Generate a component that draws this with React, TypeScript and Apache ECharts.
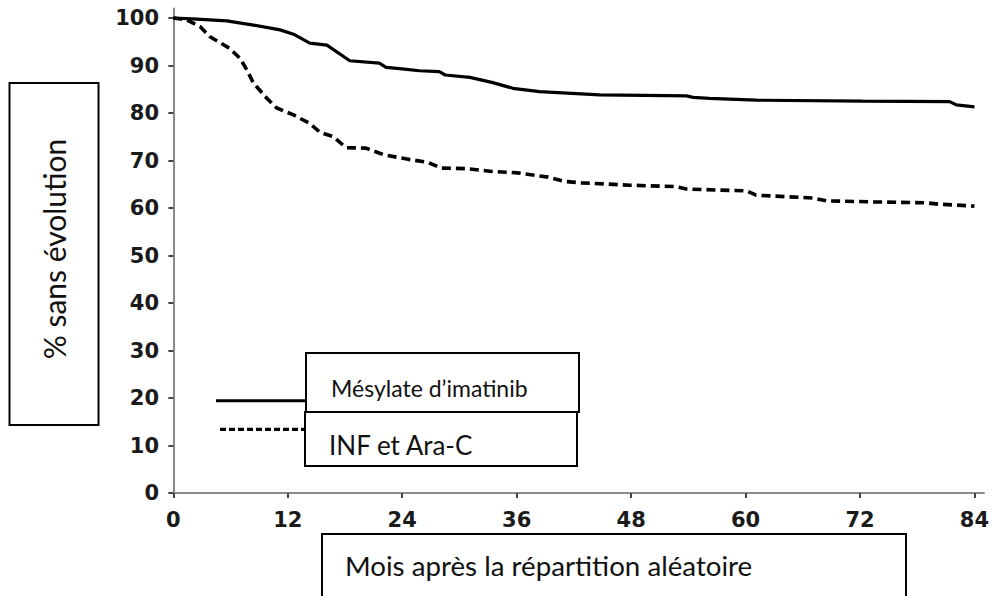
import React, { useEffect, useRef } from "react";
import * as echarts from "echarts";

const xTicks = [0, 12, 24, 36, 48, 60, 72, 84];
const yTicks = [0, 10, 20, 30, 40, 50, 60, 70, 80, 90, 100];

const imatinibMonths = [0, 2, 5.6, 8.4, 11.2, 12.6, 14.3, 16.1, 18.5, 21.6, 22.3, 24, 25.8, 27.9, 28.5, 31.1, 33.5, 35.6, 38.4, 44.7, 53.8, 54.5, 56.2, 61.1, 72.3, 81.4, 82.1, 84];
const imatinibValues = [100, 99.8, 99.4, 98.5, 97.5, 96.6, 94.7, 94.3, 91.0, 90.5, 89.6, 89.3, 88.9, 88.7, 88.0, 87.5, 86.4, 85.2, 84.5, 83.8, 83.6, 83.3, 83.1, 82.7, 82.5, 82.4, 81.7, 81.3];

const infMonths = [0, 1.4, 2.8, 3.8, 5.9, 7.0, 7.7, 8.4, 9.8, 10.8, 12.6, 14.3, 15.4, 16.8, 18.1, 20.2, 22.1, 24.5, 26.7, 28.1, 30.6, 33.4, 36.1, 39.3, 41.0, 42.8, 47.9, 52.7, 53.8, 60.1, 61.1, 67.1, 68.5, 73.4, 78.9, 80.3, 84];
const infValues = [100, 99.6, 98.2, 96.1, 93.6, 91.5, 89.1, 86.3, 83.1, 81.1, 79.6, 77.8, 75.9, 75.0, 72.7, 72.6, 71.2, 70.3, 69.6, 68.4, 68.3, 67.7, 67.4, 66.5, 65.6, 65.3, 64.8, 64.5, 64.0, 63.6, 62.7, 62.1, 61.5, 61.3, 61.1, 60.8, 60.4];

const seriesNames = ["Mésylate d\u2019imatinib", "INF et Ara-C"];
const yTitle = "% sans évolution";
const xTitle = "Mois après la répartition aléatoire";

export default function App() {
  const ref = useRef<HTMLDivElement>(null);
  useEffect(() => {
    if (!ref.current) return;
    const chart = echarts.init(ref.current, undefined, { renderer: "svg" });
    const tickFont = { fontFamily: "DejaVu Sans", fontWeight: "bold" as const, fontSize: 21, color: "#1a1a1a" };
    chart.setOption({
      animation: false,
      backgroundColor: "#ffffff",
      grid: { left: 170, right: 11, top: 8.5, bottom: 100.6, outerBoundsMode: "none" },
      xAxis: {
        type: "value",
        min: -0.35,
        max: 85,
        axisLine: { show: true, lineStyle: { color: "#8a8a8a", width: 2 } },
        axisTick: { show: true, customValues: xTicks, length: 5, lineStyle: { color: "#444", width: 2 } },
        axisLabel: { customValues: xTicks, margin: 14, ...tickFont },
        splitLine: { show: false },
      },
      yAxis: {
        type: "value",
        min: -0.5,
        max: 102,
        axisLine: { show: true, lineStyle: { color: "#8a8a8a", width: 2 } },
        axisTick: { show: true, customValues: yTicks, length: 5, lineStyle: { color: "#444", width: 2 } },
        axisLabel: { customValues: yTicks, margin: 11, ...tickFont },
        splitLine: { show: false },
      },
      series: [
        {
          name: seriesNames[0],
          type: "line",
          data: imatinibMonths.map((m, i) => [m, imatinibValues[i]]),
          showSymbol: false,
          lineStyle: { color: "#000", width: 3.2 },
        },
        {
          name: seriesNames[1],
          type: "line",
          data: infMonths.map((m, i) => [m, infValues[i]]),
          showSymbol: false,
          lineStyle: { color: "#000", width: 3.6, type: [9, 5] },
        },
      ],
      graphic: [
        { type: "rect", shape: { x: 9.5, y: 83, width: 89, height: 342 }, style: { fill: "#fff", stroke: "#000", lineWidth: 2 } },
        {
          type: "text",
          x: 54,
          y: 249,
          rotation: Math.PI / 2,
          style: { text: yTitle, font: "30px Lato", fill: "#111", align: "center", verticalAlign: "middle" },
        },
        { type: "line", shape: { x1: 216, y1: 400.7, x2: 306, y2: 400.7 }, style: { stroke: "#000", lineWidth: 3 } },
        { type: "line", shape: { x1: 220, y1: 429.3, x2: 306, y2: 429.3 }, style: { stroke: "#000", lineWidth: 3.2, lineDash: [6, 3] } },
        { type: "rect", shape: { x: 306, y: 353, width: 273, height: 59 }, style: { fill: "#fff", stroke: "#000", lineWidth: 2 } },
        { type: "rect", shape: { x: 305, y: 412, width: 272, height: 54 }, style: { fill: "#fff", stroke: "#000", lineWidth: 2 } },
        {
          type: "text",
          x: 331,
          y: 388,
          style: { text: seriesNames[0], font: "23px Lato", fill: "#111", align: "left", verticalAlign: "middle" },
        },
        {
          type: "text",
          x: 329,
          y: 445,
          style: { text: seriesNames[1], font: "26px Lato", fill: "#111", align: "left", verticalAlign: "middle" },
        },
        { type: "rect", shape: { x: 322, y: 534, width: 584, height: 80 }, style: { fill: "#fff", stroke: "#000", lineWidth: 2 } },
        {
          type: "text",
          x: 345,
          y: 565,
          style: { text: xTitle, font: "27.7px Lato", fill: "#111", align: "left", verticalAlign: "middle" },
        },
      ],
    });
    return () => chart.dispose();
  }, []);
  return <div ref={ref} style={{ position: "fixed", left: 0, top: 0, width: 995, height: 596 }} />;
}
